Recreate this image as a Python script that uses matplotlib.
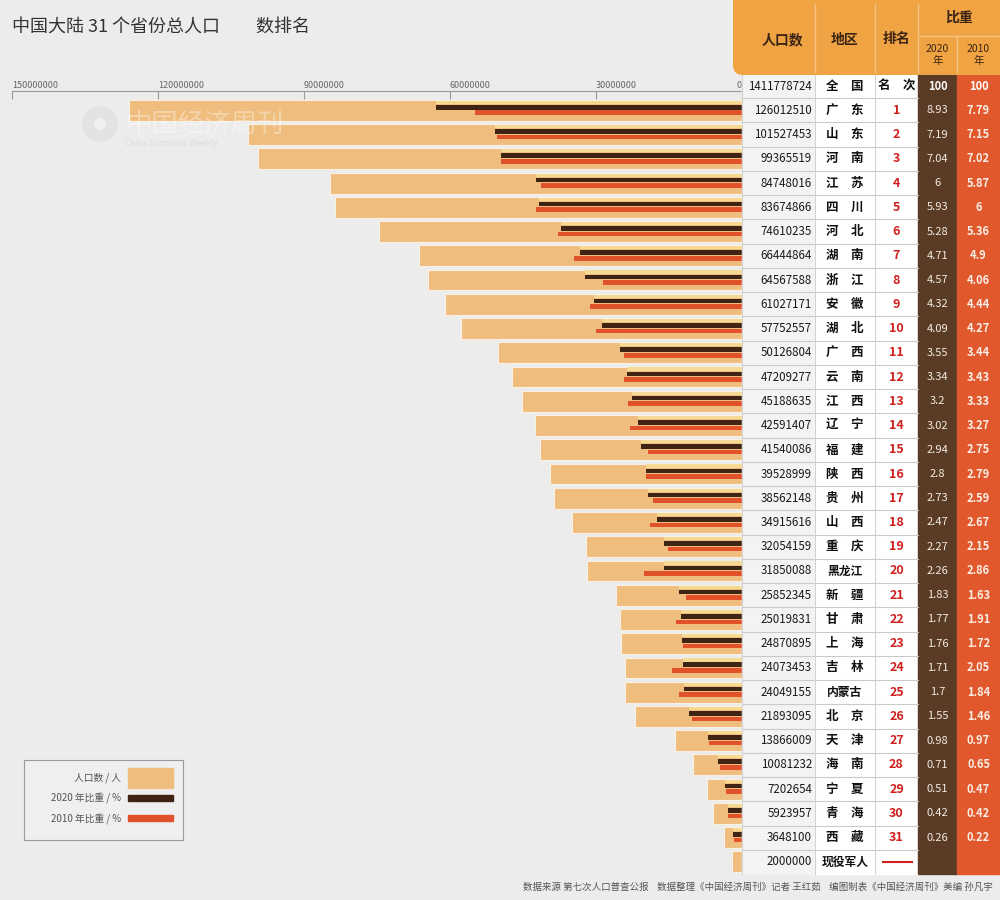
import matplotlib
matplotlib.use("Agg")
import matplotlib.pyplot as plt
from matplotlib.patches import Rectangle, FancyBboxPatch, Circle
from matplotlib.ticker import FixedLocator, FixedFormatter

plt.rcParams['font.family'] = ['Noto Sans CJK SC', 'DejaVu Sans']

# ---- data ----
provinces = ['广东', '山东', '河南', '江苏', '四川', '河北', '湖南', '浙江', '安徽', '湖北',
             '广西', '云南', '江西', '辽宁', '福建', '陕西', '贵州', '山西', '重庆', '黑龙江',
             '新疆', '甘肃', '上海', '吉林', '内蒙古', '北京', '天津', '海南', '宁夏', '青海', '西藏']
population = [126012510, 101527453, 99365519, 84748016, 83674866, 74610235, 66444864, 64567588,
              61027171, 57752557, 50126804, 47209277, 45188635, 42591407, 41540086, 39528999,
              38562148, 34915616, 32054159, 31850088, 25852345, 25019831, 24870895, 24073453,
              24049155, 21893095, 13866009, 10081232, 7202654, 5923957, 3648100]
share_2020 = [8.93, 7.19, 7.04, 6, 5.93, 5.28, 4.71, 4.57, 4.32, 4.09, 3.55, 3.34, 3.2, 3.02,
              2.94, 2.8, 2.73, 2.47, 2.27, 2.26, 1.83, 1.77, 1.76, 1.71, 1.7, 1.55, 0.98, 0.71,
              0.51, 0.42, 0.26]
share_2010 = [7.79, 7.15, 7.02, 5.87, 6, 5.36, 4.9, 4.06, 4.44, 4.27, 3.44, 3.43, 3.33, 3.27,
              2.75, 2.79, 2.59, 2.67, 2.15, 2.86, 1.63, 1.91, 1.72, 2.05, 1.84, 1.46, 0.97, 0.65,
              0.47, 0.42, 0.22]
ranks = list(range(1, 32))
total_pop = 1411778724
army_label = '现役军人'
army_pop = 2000000
xticks = [150000000, 120000000, 90000000, 60000000, 30000000, 0]
xtick_labels = ['150000000', '120000000', '90000000', '60000000', '30000000', '0']

BG = '#ececec'
TAN = '#efbd7e'
PALE = '#f6da93'
DARK = '#3f2414'
ORANGE = '#e2522a'
COL2020 = '#5a3b25'
COL2010 = '#e0582c'
HEAD = '#f0a342'

fig = plt.figure(figsize=(10, 9), dpi=100, facecolor=BG)

# ---- bar area ----
ROW = 800 / 33
ax = fig.add_axes([12 / 1000, 1 - 874 / 900, 730 / 1000, 800 / 900])
ax.set_facecolor('none')
rows = list(range(1, 32))
ax.barh(rows, population, height=0.86, color=TAN, edgecolor='#fbf1e2', linewidth=0.8)
ax.barh([32], [army_pop], height=0.86, color=TAN, edgecolor='#fbf1e2', linewidth=0.8)
ax.set_xlim(150000000, 0)
ax.set_ylim(32.5, -0.5)

# share lines on their own scale (1 % = 34.3 px)
ax2 = ax.twiny()
ax2.set_xlim(730 / 34.3, 0)
ax2.axis('off')
ax2.barh([r - 0.33 for r in rows], share_2020, height=0.13, color=PALE)
ax2.barh([r - 0.13 for r in rows], share_2020, height=0.19, color=DARK)
ax2.barh([r + 0.10 for r in rows], share_2010, height=0.19, color=ORANGE)

# population scale at the top
for s in ['left', 'right', 'bottom']:
    ax.spines[s].set_visible(False)
ax.spines['top'].set_visible(True)
ax.spines['top'].set_position(('data', 0.2))
ax.spines['top'].set_color('#9a9a9a')
ax.yaxis.set_visible(False)
ax.xaxis.tick_top()
ax.xaxis.set_major_locator(FixedLocator(xticks))
ax.xaxis.set_major_formatter(FixedFormatter(xtick_labels))
ax.tick_params(axis='x', which='both', top=True, bottom=False, labeltop=True,
               labelbottom=False, direction='in', length=6, color='#9a9a9a', labelsize=6.5,
               labelcolor='#666666', pad=1)
lbls = ax.get_xticklabels()
for lbl in lbls[:-1]:
    lbl.set_ha('left')
lbls[-1].set_ha('right')

# ---- overlay in pixel coords ----
ov = fig.add_axes([0, 0, 1, 1])
ov.set_xlim(0, 1000)
ov.set_ylim(900, 0)
ov.axis('off')
ov.patch.set_alpha(0)


def rc(i):
    return 74 + (i + 0.5) * ROW


X0, X1, X2, X3, X4, X5 = 742, 815, 875, 918, 957, 1000
TOP, BOT = 74, 874

# watermark
ov.add_patch(Circle((100, 124), 17, color='#dedede', alpha=0.6, zorder=5))
ov.add_patch(Circle((100, 124), 5, color='#f4f4f4', alpha=0.8, zorder=5))
ov.text(125, 124, '中国经济周刊', fontsize=19, color='#ffffff', alpha=0.35, va='center', zorder=5)
ov.text(125, 144, 'China Economic Weekly', fontsize=6, color='#d8d8d8', alpha=0.8,
        va='center', zorder=5)

# table columns
ov.add_patch(Rectangle((X0, TOP), X1 - X0, BOT - TOP, color='#f3f3f3', zorder=2))
ov.add_patch(Rectangle((X1, TOP), X3 - X1, BOT - TOP, color='#ffffff', zorder=2))
ov.add_patch(Rectangle((X3, TOP), X4 - X3, BOT - TOP, color=COL2020, zorder=2))
ov.add_patch(Rectangle((X4, TOP), X5 - X4, BOT - TOP, color=COL2010, zorder=2))
for k in range(1, 33):
    yy = TOP + k * ROW
    ov.plot([X0, X3], [yy, yy], color='#cacaca', lw=0.8, zorder=3)
for xx in [X0, X1, X2]:
    ov.plot([xx, xx], [TOP, BOT], color='#d2d2d2', lw=0.8, zorder=3)

# header
ov.add_patch(FancyBboxPatch((733, -20), 290, 95, boxstyle='round,pad=0,rounding_size=10',
                            facecolor=HEAD, edgecolor='none', zorder=4))
for xx in [X1, X2, X3]:
    ov.plot([xx, xx], [4, 72], color='#f5c282', lw=1, zorder=5)
ov.plot([X4, X4], [36, 72], color='#f5c282', lw=1, zorder=5)
ov.plot([X3, X5], [36, 36], color='#f5c282', lw=1, zorder=5)
hk = dict(color='#3b2414', fontweight='bold', ha='center', va='center', zorder=6)
ov.text((X0 + X1) / 2 + 4, 40, '人口数', fontsize=10, **hk)
ov.text((X1 + X2) / 2, 40, '地区', fontsize=10, **hk)
ov.text((X2 + X3) / 2, 39, '排名', fontsize=10, **hk)
ov.text((X3 + X5) / 2, 18, '比重', fontsize=10, **hk)
ov.text((X3 + X4) / 2, 55, '2020\n年', fontsize=7.5, linespacing=1.2,
        **dict(hk, fontweight='normal'))
ov.text((X4 + X5) / 2, 55, '2010\n年', fontsize=7.5, linespacing=1.2,
        **dict(hk, fontweight='normal'))


def spaced(name):
    return name[0] + '\u3000' + name[1] if len(name) == 2 else name


tk = dict(va='center', zorder=6)
# national row
ov.text(X1 - 3, rc(0), str(total_pop), fontsize=8.3, color='#1a1a1a', ha='right', **tk)
ov.text((X1 + X2) / 2, rc(0), spaced('全国'), fontsize=9, fontweight='bold',
        color='#111111', ha='center', **tk)
ov.text((X2 + X3) / 2, rc(0), spaced('名次'), fontsize=9, fontweight='bold',
        color='#111111', ha='center', **tk)
ov.text((X3 + X4) / 2, rc(0), '100', fontsize=8, fontweight='bold', color='white',
        ha='center', **tk)
ov.text((X4 + X5) / 2, rc(0), '100', fontsize=8, fontweight='bold', color='white',
        ha='center', **tk)

for i, (name, pop, r, s20, s10) in enumerate(zip(provinces, population, ranks,
                                                  share_2020, share_2010), start=1):
    yy = rc(i)
    ov.text(X1 - 3, yy, str(pop), fontsize=8.3, color='#1a1a1a', ha='right', **tk)
    ov.text((X1 + X2) / 2, yy, spaced(name), fontsize=9 if len(name) == 2 else 8.5,
            fontweight='bold', color='#111111', ha='center', **tk)
    ov.text((X2 + X3) / 2, yy, str(r), fontsize=9, fontweight='bold', color='#d0201e',
            ha='center', **tk)
    ov.text((X3 + X4) / 2, yy, f'{s20:g}', fontsize=8, fontweight='medium', color='#f4ece4',
            ha='center', **tk)
    ov.text((X4 + X5) / 2, yy, f'{s10:g}', fontsize=8, fontweight='bold', color='#fbeee6',
            ha='center', **tk)

ov.text(X1 - 3, rc(32), str(army_pop), fontsize=8.3, color='#1a1a1a', ha='right', **tk)
ov.text((X1 + X2) / 2, rc(32), army_label, fontsize=8.5, fontweight='bold', color='#111111',
        ha='center', **tk)
ov.plot([883, 912], [rc(32), rc(32)], color='#d0201e', lw=1.5, zorder=6)

# title
ov.text(12, 28, '中国大陆 31 个省份总人口\u3000\u3000数排名', fontsize=13, color='#333333',
        va='center', ha='left')

# legend
ov.add_patch(Rectangle((24, 760), 159, 80, facecolor='#efefef', edgecolor='#9a9a9a', lw=0.8,
                       zorder=6))
lk = dict(fontsize=7, color='#555555', ha='right', va='center', zorder=7)
ov.text(121, 778, '人口数 / 人', **lk)
ov.text(121, 798, '2020 年比重 / %', **lk)
ov.text(121, 819, '2010 年比重 / %', **lk)
ov.add_patch(Rectangle((128, 768), 45, 20, color=TAN, zorder=7))
ov.add_patch(Rectangle((128, 795), 45, 6, color=DARK, zorder=7))
ov.add_patch(Rectangle((128, 815), 45, 6, color=ORANGE, zorder=7))

# footer
ov.text(993, 887, '数据来源 第七次人口普查公报    数据整理《中国经济周刊》记者 王红茹    '
        '编图制表《中国经济周刊》美编 孙凡宇', fontsize=6.8, color='#555555', ha='right',
        va='center')

fig.savefig('out.png', dpi=100, facecolor=BG)
